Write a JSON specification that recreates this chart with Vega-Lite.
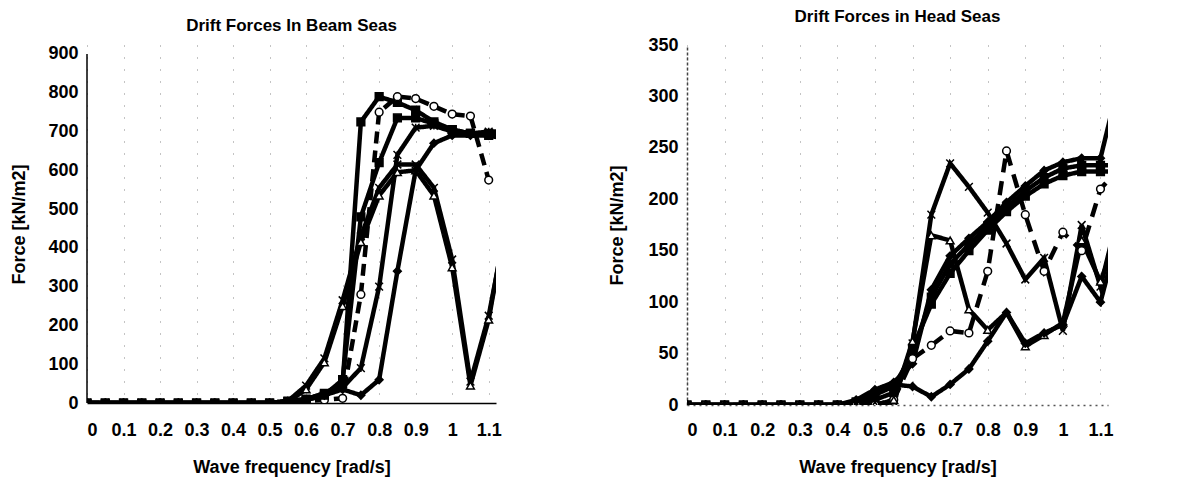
{
  "$schema": "https://vega.github.io/schema/vega-lite/v6.json",
  "background": "white",
  "padding": {"left": 10, "top": 8, "right": 5, "bottom": 5},
  "spacing": 106,
  "resolve": {"scale": {"shape": "independent", "fill": "independent", "strokeDash": "independent"}},
  "config": {
    "font": "Liberation Sans",
    "view": {"stroke": null},
    "axis": {
      "labelFont": "Liberation Sans", "labelFontSize": 18, "labelFontWeight": "bold", "labelColor": "black",
      "titleFont": "Liberation Sans", "titleFontSize": 18, "titleFontWeight": "bold", "titleColor": "black",
      "domainColor": "black", "domainWidth": 1.5, "tickSize": 0
    }
  },
  "datasets": {
    "beam": [
      {"s": "L1", "f": [0,0.05,0.1,0.15,0.2,0.25,0.3,0.35,0.4,0.45,0.5,0.55,0.6,0.65,0.7,0.75,0.8,0.85,0.9,0.95,1,1.05,1.1,1.15], "F": [0,0,0,0,0,0,0,0,0,0,0,3,35,105,250,415,535,595,600,535,350,45,215,480]},
      {"s": "L2", "f": [0,0.05,0.1,0.15,0.2,0.25,0.3,0.35,0.4,0.45,0.5,0.55,0.6,0.65,0.7,0.75,0.8,0.85,0.9,0.95,1,1.05,1.1,1.15], "F": [0,0,0,0,0,0,0,0,0,0,0,5,45,115,265,430,555,615,615,555,370,55,225,470]},
      {"s": "L3", "f": [0,0.05,0.1,0.15,0.2,0.25,0.3,0.35,0.4,0.45,0.5,0.55,0.6,0.65,0.7,0.75,0.8,0.85,0.9,0.95,1,1.05,1.1,1.15], "F": [0,0,0,0,0,0,0,0,0,0,0,5,10,25,50,725,790,775,755,725,705,695,695,690]},
      {"s": "L4", "f": [0,0.05,0.1,0.15,0.2,0.25,0.3,0.35,0.4,0.45,0.5,0.55,0.6,0.65,0.7,0.75,0.8,0.85,0.9,0.95,1,1.05,1.1], "F": [0,0,0,0,0,0,0,0,0,0,0,2,5,8,12,280,750,790,785,765,745,740,575]},
      {"s": "L5", "f": [0,0.05,0.1,0.15,0.2,0.25,0.3,0.35,0.4,0.45,0.5,0.55,0.6,0.65,0.7,0.75,0.8,0.85,0.9,0.95,1,1.05,1.1,1.15], "F": [0,0,0,0,0,0,0,0,0,0,0,5,8,20,35,20,60,340,600,670,690,690,690,680]},
      {"s": "L6", "f": [0,0.05,0.1,0.15,0.2,0.25,0.3,0.35,0.4,0.45,0.5,0.55,0.6,0.65,0.7,0.75,0.8,0.85,0.9,0.95,1,1.05,1.1,1.15], "F": [0,0,0,0,0,0,0,0,0,0,0,4,10,25,40,90,300,640,710,715,700,695,700,700]},
      {"s": "L7", "f": [0,0.05,0.1,0.15,0.2,0.25,0.3,0.35,0.4,0.45,0.5,0.55,0.6,0.65,0.7,0.75,0.8,0.85,0.9,0.95,1,1.05,1.1,1.15], "F": [0,0,0,0,0,0,0,0,0,0,0,3,8,20,60,480,620,735,735,720,705,695,690,690]}
    ],
    "head": [
      {"s": "R1", "f": [0,0.05,0.1,0.15,0.2,0.25,0.3,0.35,0.4,0.45,0.5,0.55,0.6,0.65,0.7,0.75,0.8,0.85,0.9,0.95,1,1.05,1.1,1.15], "F": [0,0,0,0,0,0,0,0,0,0,0,3,60,185,235,212,187,157,122,143,72,175,115,190]},
      {"s": "R2", "f": [0,0.05,0.1,0.15,0.2,0.25,0.3,0.35,0.4,0.45,0.5,0.55,0.6,0.65,0.7,0.75,0.8,0.85,0.9,0.95,1,1.05,1.1,1.15], "F": [0,0,0,0,0,0,0,0,0,2,5,12,55,98,128,150,170,188,203,215,223,227,227,227]},
      {"s": "R3", "f": [0,0.05,0.1,0.15,0.2,0.25,0.3,0.35,0.4,0.45,0.5,0.55,0.6,0.65,0.7,0.75,0.8,0.85,0.9,0.95,1,1.05,1.1,1.15], "F": [0,0,0,0,0,0,0,0,0,5,15,22,40,112,145,162,178,197,213,228,236,240,240,315]},
      {"s": "R4", "f": [0,0.05,0.1,0.15,0.2,0.25,0.3,0.35,0.4,0.45,0.5,0.55,0.6,0.65,0.7,0.75,0.8,0.85,0.9,0.95,1,1.05,1.1,1.15], "F": [0,0,0,0,0,0,0,0,0,3,10,18,50,105,137,156,174,192,208,221,230,233,233,233]},
      {"s": "R5", "f": [0,0.05,0.1,0.15,0.2,0.25,0.3,0.35,0.4,0.45,0.5,0.55,0.6,0.65,0.7,0.75,0.8,0.85,0.9,0.95,1,1.05,1.1,1.15], "F": [0,0,0,0,0,0,0,0,0,0,0,5,45,58,72,70,130,247,185,130,168,150,210,230]},
      {"s": "R6", "f": [0,0.05,0.1,0.15,0.2,0.25,0.3,0.35,0.4,0.45,0.5,0.55,0.6,0.65,0.7,0.75,0.8,0.85,0.9,0.95,1,1.05,1.1,1.15], "F": [0,0,0,0,0,0,0,0,0,0,0,5,62,165,160,93,73,90,57,68,80,160,120,170]},
      {"s": "R7", "f": [0,0.05,0.1,0.15,0.2,0.25,0.3,0.35,0.4,0.45,0.5,0.55,0.6,0.65,0.7,0.75,0.8,0.85,0.9,0.95,1,1.05,1.1,1.15], "F": [0,0,0,0,0,0,0,0,0,4,10,20,18,8,20,35,62,90,60,70,78,125,100,170]}
    ]
  },
  "hconcat": [
    {
      "width": 409, "height": 358,
      "title": {"text": "Drift Forces In Beam Seas", "font": "Liberation Sans", "fontSize": 17, "fontWeight": "bold", "color": "black", "offset": 10},
      "data": {"name": "beam"},
      "transform": [{"flatten": ["f", "F"]}],
      "encoding": {
        "x": {"field": "f", "type": "quantitative", "scale": {"domain": [0, 1.12], "nice": false, "zero": false},
          "axis": {"title": "Wave frequency [rad/s]", "values": [0,0.1,0.2,0.3,0.4,0.5,0.6,0.7,0.8,0.9,1,1.1], "format": ".1~f", "grid": true, "gridDash": [1, 11], "gridColor": "#888", "labelPadding": 18, "titlePadding": 19}},
        "y": {"field": "F", "type": "quantitative", "scale": {"domain": [0, 923.2], "nice": false},
          "axis": {"title": "Force [kN/m2]", "values": [0,100,200,300,400,500,600,700,800,900], "grid": false, "domain": false, "labelPadding": 9, "titlePadding": 19}}
      },
      "layer": [
        {
          "mark": {"type": "line", "clip": true, "strokeWidth": 4.5, "color": "black"},
          "encoding": {
            "detail": {"field": "s"},
            "strokeDash": {"field": "s", "type": "nominal", "legend": null,
              "scale": {"domain": ["L1","L2","L3","L4","L5","L6","L7"], "range": [[1,0],[1,0],[1,0],[12,7],[1,0],[1,0],[1,0]]}}
          }
        },
        {
          "mark": {"type": "point", "clip": true, "filled": true, "stroke": "black", "strokeWidth": 1.5, "size": 60, "opacity": 1},
          "encoding": {
            "shape": {"field": "s", "type": "nominal", "legend": null,
              "scale": {"domain": ["L1","L2","L3","L4","L5","L6","L7"], "range": ["triangle-up", "M-1,-1L1,1M-1,1L1,-1", "square", "circle", "diamond", "M-1,-1L1,1M-1,1L1,-1M0,-1L0,1", "square"]}},
            "fill": {"field": "s", "type": "nominal", "legend": null,
              "scale": {"domain": ["L1","L2","L3","L4","L5","L6","L7"], "range": ["white", "black", "black", "white", "black", "black", "black"]}}
          }
        },
        {
          "data": {"values": [{"x0": 0, "a": 0, "b": 900}]},
          "transform": [],
          "mark": {"type": "rule", "color": "black", "strokeWidth": 1.5},
          "encoding": {
            "x": {"field": "x0", "type": "quantitative",
              "axis": {"title": "Wave frequency [rad/s]", "values": [0,0.1,0.2,0.3,0.4,0.5,0.6,0.7,0.8,0.9,1,1.1], "format": ".1~f", "grid": true, "gridDash": [1, 11], "gridColor": "#888", "labelPadding": 18, "titlePadding": 19}},
            "y": {"field": "a", "type": "quantitative",
              "axis": {"title": "Force [kN/m2]", "values": [0,100,200,300,400,500,600,700,800,900], "grid": false, "domain": false, "labelPadding": 9, "titlePadding": 19}},
            "y2": {"field": "b"}
          }
        }
      ]
    },
    {
      "width": 421, "height": 360,
      "title": {"text": "Drift Forces in Head Seas", "font": "Liberation Sans", "fontSize": 17, "fontWeight": "bold", "color": "black", "offset": 10},
      "data": {"name": "head"},
      "transform": [{"flatten": ["f", "F"]}],
      "encoding": {
        "x": {"field": "f", "type": "quantitative", "scale": {"domain": [0, 1.12], "nice": false, "zero": false},
          "axis": {"title": "Wave frequency [rad/s]", "values": [0,0.1,0.2,0.3,0.4,0.5,0.6,0.7,0.8,0.9,1,1.1], "format": ".1~f", "grid": true, "gridDash": [1, 11], "gridColor": "#888", "labelPadding": 16, "titlePadding": 19, "domainDash": [2, 4], "domainColor": "#555"}},
        "y": {"field": "F", "type": "quantitative", "scale": {"domain": [0, 350], "nice": false},
          "axis": {"title": "Force [kN/m2]", "values": [0,50,100,150,200,250,300,350], "grid": false, "labelPadding": 9, "titlePadding": 21, "domainDash": [3, 2], "domainColor": "#444"}}
      },
      "layer": [
        {
          "mark": {"type": "line", "clip": true, "strokeWidth": 4.5, "color": "black"},
          "encoding": {
            "detail": {"field": "s"},
            "strokeDash": {"field": "s", "type": "nominal", "legend": null,
              "scale": {"domain": ["R1","R2","R3","R4","R5","R6","R7"], "range": [[1,0],[1,0],[1,0],[1,0],[14,9],[1,0],[1,0]]}}
          }
        },
        {
          "mark": {"type": "point", "clip": true, "filled": true, "stroke": "black", "strokeWidth": 1.5, "size": 60, "opacity": 1},
          "encoding": {
            "shape": {"field": "s", "type": "nominal", "legend": null,
              "scale": {"domain": ["R1","R2","R3","R4","R5","R6","R7"], "range": ["M-1,-1L1,1M-1,1L1,-1", "square", "diamond", "square", "circle", "triangle-up", "diamond"]}},
            "fill": {"field": "s", "type": "nominal", "legend": null,
              "scale": {"domain": ["R1","R2","R3","R4","R5","R6","R7"], "range": ["black", "black", "black", "black", "white", "white", "black"]}}
          }
        }
      ]
    }
  ]
}
